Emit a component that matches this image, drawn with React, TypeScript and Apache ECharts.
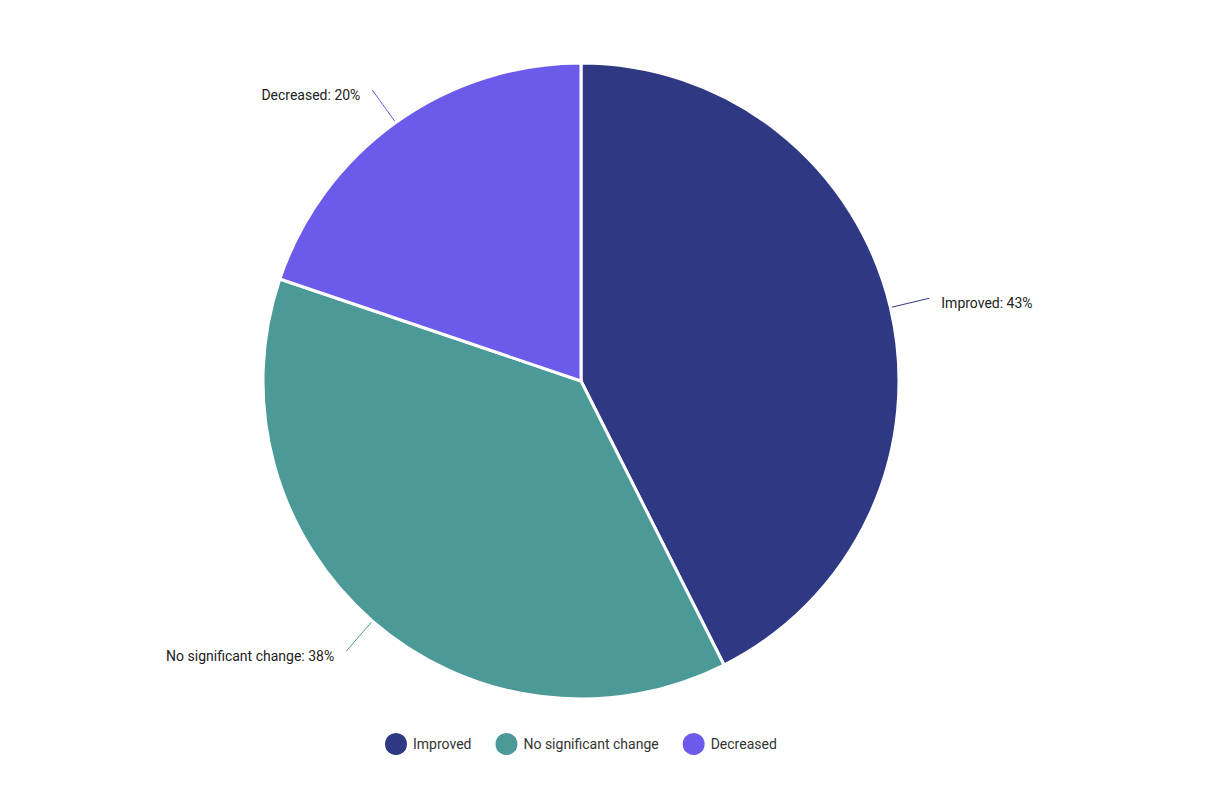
import { useRef, useEffect } from 'react'
import * as echarts from 'echarts'

const categories = ['Improved', 'No significant change', 'Decreased']
const shares = [43, 38, 20]
const colors = ['#2f3883', '#4b9a97', '#6c5beb']

export default function App() {
  const chartRef = useRef<HTMLDivElement>(null)

  useEffect(() => {
    if (!chartRef.current) return
    const chart = echarts.init(chartRef.current, null, { renderer: 'svg' })

    chart.setOption({
      animation: false,
      textStyle: { fontFamily: 'Roboto, sans-serif' },
      legend: {
        data: categories,
        left: 378,
        top: 726,
        icon: 'circle',
        itemWidth: 24,
        itemHeight: 24,
        itemGap: 22,
        textStyle: { fontSize: 14, color: '#333' }
      },
      series: [
        {
          type: 'pie',
          center: [581, 381],
          radius: 318,
          startAngle: 90,
          clockwise: true,
          itemStyle: { borderColor: '#fff', borderWidth: 3 },
          label: {
            formatter: '{b}: {c}%',
            fontSize: 14,
            color: '#222',
            distanceToLabelLine: 12
          },
          labelLine: { length: 40, length2: 0, lineStyle: { width: 1 } },
          labelLayout: { dy: 5 },
          data: categories.map((name, i) => ({
            name,
            value: shares[i],
            itemStyle: { color: colors[i] }
          }))
        }
      ]
    })

    return () => chart.dispose()
  }, [])

  return (
    <div
      ref={chartRef}
      style={{ position: 'fixed', left: 0, top: 0, width: 1206, height: 806, background: '#fff' }}
    />
  )
}
